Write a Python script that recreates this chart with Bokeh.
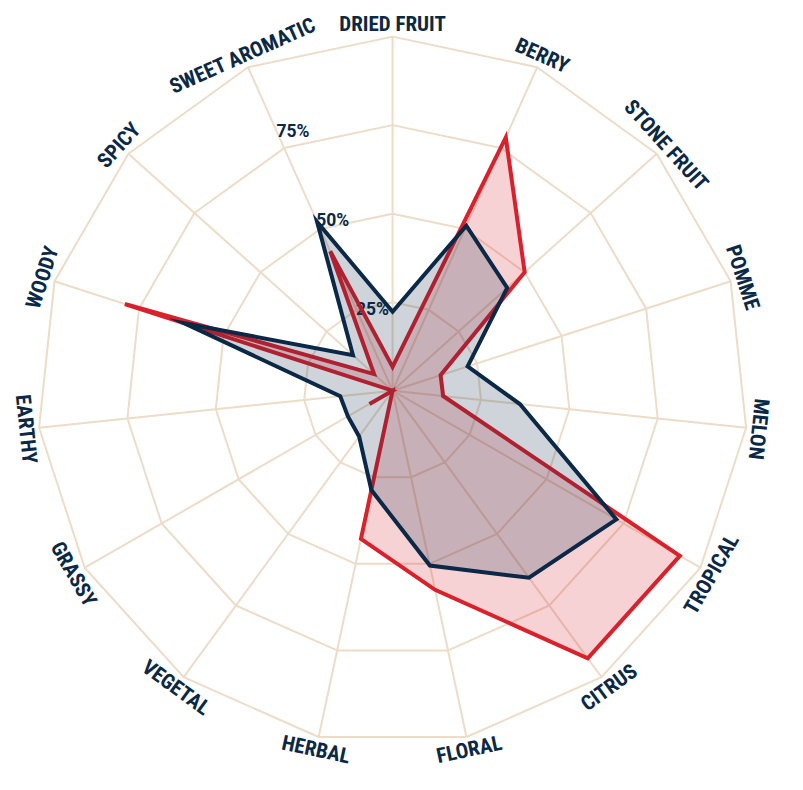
import numpy as np
from bokeh.plotting import figure
from bokeh.embed import file_html
from bokeh.resources import INLINE
from bokeh.core.properties import value

categories = ["DRIED FRUIT", "BERRY", "STONE FRUIT", "POMME", "MELON", "TROPICAL",
              "CITRUS", "FLORAL", "HERBAL", "VEGETAL", "GRASSY", "EARTHY",
              "WOODY", "SPICY", "SWEET AROMATIC"]
navy_values = [22.3, 51, 43.4, 22.2, 36, 72.7, 65.3, 50.5, 28.7, 16, 14.5, 14.8, 61.7, 15, 52.2]
red_values = [6.7, 78.3, 50, 14.2, 14.3, 93.3, 93.4, 57.5, 42.8, 0, 7.5, 0, 79.2, 7, 43.1]
grid_levels = [25, 50, 75, 100]
grid_labels = ["25%", "50%", "75%"]

NAVY = "#0b2946"
RED = "#d9202b"
GRID = "#eddcc8"
LABEL_FONT = "'Roboto Condensed', 'DejaVu Sans Condensed', 'Open Sans Condensed', Roboto, sans-serif"

n = len(categories)
theta = np.deg2rad(np.arange(n) * 360.0 / n)

p = figure(width=787, height=774, output_backend="svg", toolbar_location=None,
           x_range=(-110.3, 111.1), y_range=(-108.4, 110.2), min_border=0)
p.axis.visible = False
p.grid.visible = False
p.outline_line_color = None
p.background_fill_color = "white"

# grid rings
for lv in grid_levels:
    xs = list(lv * np.sin(theta)) + [lv * np.sin(theta[0])]
    ys = list(lv * np.cos(theta)) + [lv * np.cos(theta[0])]
    p.line(xs, ys, line_color=GRID, line_width=2)
# spokes
R = grid_levels[-1]
p.segment(x0=[0] * n, y0=[0] * n, x1=list(R * np.sin(theta)), y1=list(R * np.cos(theta)),
          line_color=GRID, line_width=2)

# percentage labels along the SWEET AROMATIC spoke
phi = -np.deg2rad(24)
pr = np.array(grid_levels[:3], dtype=float) * 1.1 - 2.2
p.text(x=list(pr * np.sin(phi)), y=list(pr * np.cos(phi)), text=grid_labels,
       text_align="left", text_baseline="alphabetic",
       text_font=value("Roboto"), text_font_style="bold",
       text_font_size="17.5px", text_color=NAVY)

def add_series(vals, color):
    v = np.array(vals, dtype=float)
    xs = list(v * np.sin(theta))
    ys = list(v * np.cos(theta))
    p.patch(xs, ys, fill_color=color, fill_alpha=0.2, line_color=color,
            line_width=4, line_join="miter")

add_series(red_values, RED)
add_series(navy_values, NAVY)

# category labels
lab_r = 103.6
deg = np.rad2deg(theta)
angles = [(-t if not (100 < d < 280) else np.pi - t) for t, d in zip(theta, deg)]
p.text(x=list(lab_r * np.sin(theta)), y=list(lab_r * np.cos(theta)), text=categories,
       angle=angles, text_align="center", text_baseline="middle",
       text_font=value(LABEL_FONT), text_font_style="bold",
       text_font_size="21px", text_color=NAVY)

open("out.html", "w").write(file_html(p, INLINE))
